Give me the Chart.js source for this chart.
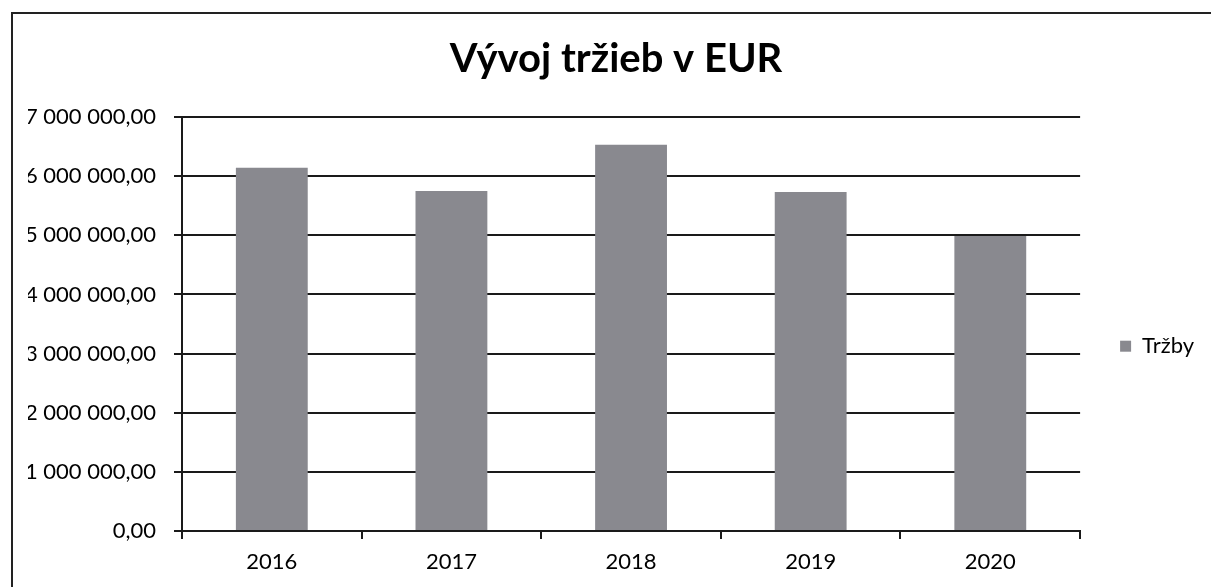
<!DOCTYPE html>
<html>
<head>
<meta charset="utf-8">
<script src="https://cdn.jsdelivr.net/npm/chart.js@4"></script>
<style>
    html, body { margin: 0; padding: 0; background: #fff; overflow: hidden; }
    #wrap { position: relative; width: 1211px; height: 587px; overflow: hidden; }
    #frame {
        position: absolute; left: 11px; top: 12px; right: 0; bottom: 0;
        border-left: 2px solid #222; border-top: 2px solid #222; pointer-events: none;
    }
</style>
</head>
<body>
<div id="wrap">
    <canvas id="salesChart" width="1211" height="587"></canvas>
    <div id="frame"></div>
</div>
<script>
// Chart data
const years = ['2016', '2017', '2018', '2019', '2020'];
const sales = [6140000, 5750000, 6530000, 5730000, 4990000];
const seriesName = 'Tržby';
const chartTitle = 'Vývoj tržieb v EUR';
const yMax = 7000000;
const yStep = 1000000;

// 7 000 000,00 style labels
function formatValue(value) {
    const whole = Math.round(value).toString().replace(/\B(?=(\d{3})+(?!\d))/g, ' ');
    return whole + ',00';
}

document.addEventListener('DOMContentLoaded', function() {
    const ctx = document.getElementById('salesChart').getContext('2d');

    new Chart(ctx, {
        type: 'bar',
        data: {
            labels: years,
            datasets: [{
                label: seriesName,
                data: sales,
                backgroundColor: '#89898f',
                borderWidth: 0,
                categoryPercentage: 1,
                barPercentage: 0.4
            }]
        },
        options: {
            responsive: false,
            animation: false,
            layout: {
                padding: { top: 35, left: 28, right: 7, bottom: 10 }
            },
            plugins: {
                title: {
                    display: true,
                    text: chartTitle,
                    color: '#000',
                    font: { family: 'Lato', size: 40, weight: 'bold' },
                    padding: { top: 0, bottom: 34 }
                },
                legend: {
                    display: true,
                    position: 'right',
                    title: {
                        // blank title only pushes the single item down
                        display: true,
                        text: ' ',
                        font: { size: 12 },
                        padding: { top: 66, bottom: 0 }
                    },
                    labels: {
                        color: '#000',
                        font: { family: 'Lato', size: 22 },
                        boxWidth: 11,
                        boxHeight: 11,
                        padding: 40
                    }
                },
                tooltip: { enabled: false }
            },
            scales: {
                y: {
                    min: 0,
                    max: yMax,
                    afterFit: function(scale) { scale.width = 154; },
                    ticks: {
                        stepSize: yStep,
                        color: '#000',
                        font: { family: 'Lato', size: 22 },
                        padding: 18,
                        callback: function(value) {
                            return formatValue(value);
                        }
                    },
                    grid: {
                        color: '#1a1a1a',
                        lineWidth: 2,
                        tickLength: 8
                    },
                    border: { color: '#1a1a1a', width: 2 }
                },
                x: {
                    afterFit: function(scale) { scale.height = 46; },
                    ticks: {
                        color: '#000',
                        font: { family: 'Lato', size: 22 },
                        padding: 10
                    },
                    grid: {
                        offset: true,
                        drawOnChartArea: false,
                        color: '#1a1a1a',
                        lineWidth: 2,
                        tickLength: 8
                    },
                    border: { color: '#1a1a1a', width: 2 }
                }
            }
        }
    });
});
</script>
</body>
</html>
